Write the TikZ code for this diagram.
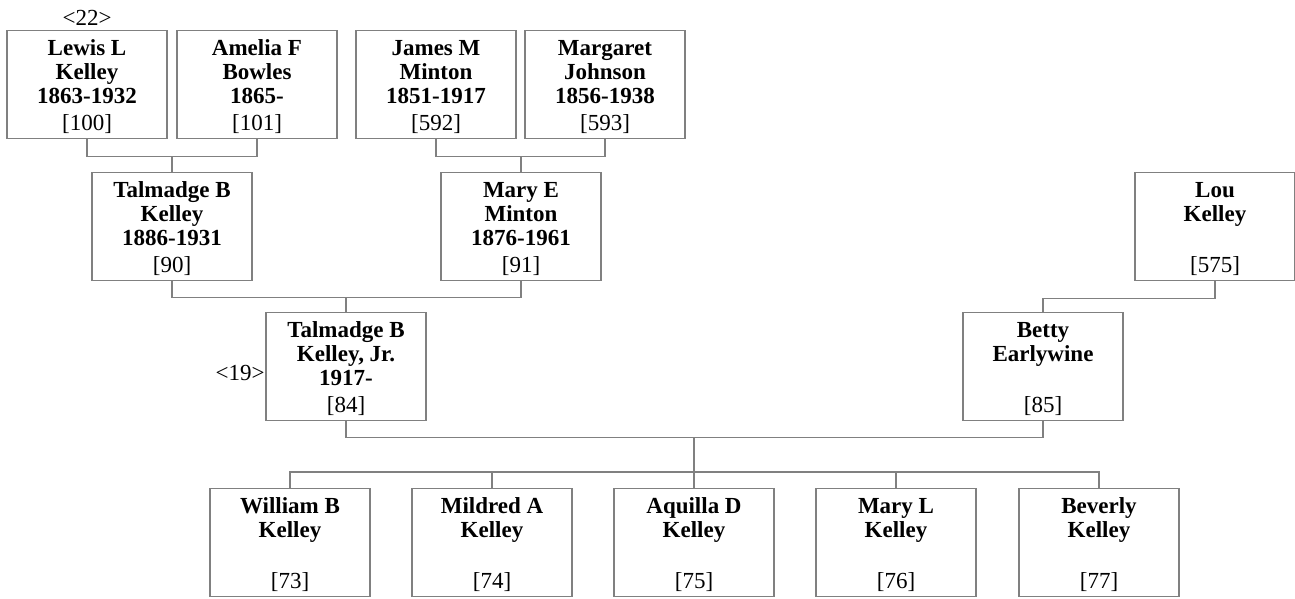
\documentclass[tikz,border=0pt]{standalone}
\usepackage{fontspec}
\setmainfont{Liberation Serif}
\usepackage{tikz}
\usetikzlibrary{positioning,calc}

\newcommand{\person}[2]{\parbox[t][54pt][t]{80pt}{\centering\bfseries\rule{0pt}{12.3pt}#1\par\vfill\mdseries\rule[-4.1pt]{0pt}{0pt}[#2]}}

\tikzset{
  pbox/.style={draw=black!50, line width=0.6pt, inner sep=0pt, anchor=north},
  link/.style={draw=black!50, line width=0.6pt},
  tag/.style={inner sep=0pt}
}

\begin{document}
\begin{tikzpicture}[x=0.5pt, y=-0.5pt, font=\fontsize{11.5}{12}\selectfont]
    \useasboundingbox (0,0) rectangle (1295,599);

    % Grandparents
    \node[pbox] (lewis) at (87,30) {\person{Lewis L\\Kelley\\1863-1932}{100}};
    \node[pbox] (amelia) at (257,30) {\person{Amelia F\\Bowles\\1865-}{101}};
    \node[pbox] (james) at (436,30) {\person{James M\\Minton\\1851-1917}{592}};
    \node[pbox] (margaret) at (605,30) {\person{Margaret\\Johnson\\1856-1938}{593}};
    \node[tag] (g22) at (87,18) {<22>};

    % Parents
    \node[pbox] (talmadge) at (172,172) {\person{Talmadge B\\Kelley\\1886-1931}{90}};
    \node[pbox] (marye) at (521,172) {\person{Mary E\\Minton\\1876-1961}{91}};
    \node[pbox] (lou) at (1215,172) {\person{Lou\\Kelley}{575}};

    % Couple
    \node[pbox] (talmadgejr) at (346,312) {\person{Talmadge B\\Kelley, Jr.\\1917-}{84}};
    \node[pbox] (betty) at (1043,312) {\person{Betty\\Earlywine}{85}};
    \node[tag] (g19) at (240,373) {<19>};

    % Children
    \node[pbox] (william) at (290,488) {\person{William B\\Kelley}{73}};
    \node[pbox] (mildred) at (492,488) {\person{Mildred A\\Kelley}{74}};
    \node[pbox] (aquilla) at (694,488) {\person{Aquilla D\\Kelley}{75}};
    \node[pbox] (marylou) at (896,488) {\person{Mary L\\Kelley}{76}};
    \node[pbox] (beverly) at (1099,488) {\person{Beverly\\Kelley}{77}};

    % Lines
    \draw[link] (lewis.south) -- ++(0,17) coordinate (m1) -| (amelia.south);
    \draw[link] (talmadge.north) -- (talmadge.north |- m1);
    \draw[link] (james.south) -- ++(0,17) coordinate (m2) -| (margaret.south);
    \draw[link] (marye.north) -- (marye.north |- m2);
    \draw[link] (talmadge.south) -- ++(0,16) coordinate (m3) -| (marye.south);
    \draw[link] (talmadgejr.north) -- (talmadgejr.north |- m3);
    \draw[link] (lou.south) -- ++(0,17) -| (betty.north);
    \draw[link] (talmadgejr.south) -- ++(0,16) coordinate (m4) -| (betty.south);
    \draw[link] (aquilla.north |- m4) -- (aquilla.north);
    \draw[link] (william.north) -- ++(0,-16) -| (beverly.north);
    \draw[link] (mildred.north) -- ++(0,-16);
    \draw[link] (marylou.north) -- ++(0,-16);
\end{tikzpicture}
\end{document}
